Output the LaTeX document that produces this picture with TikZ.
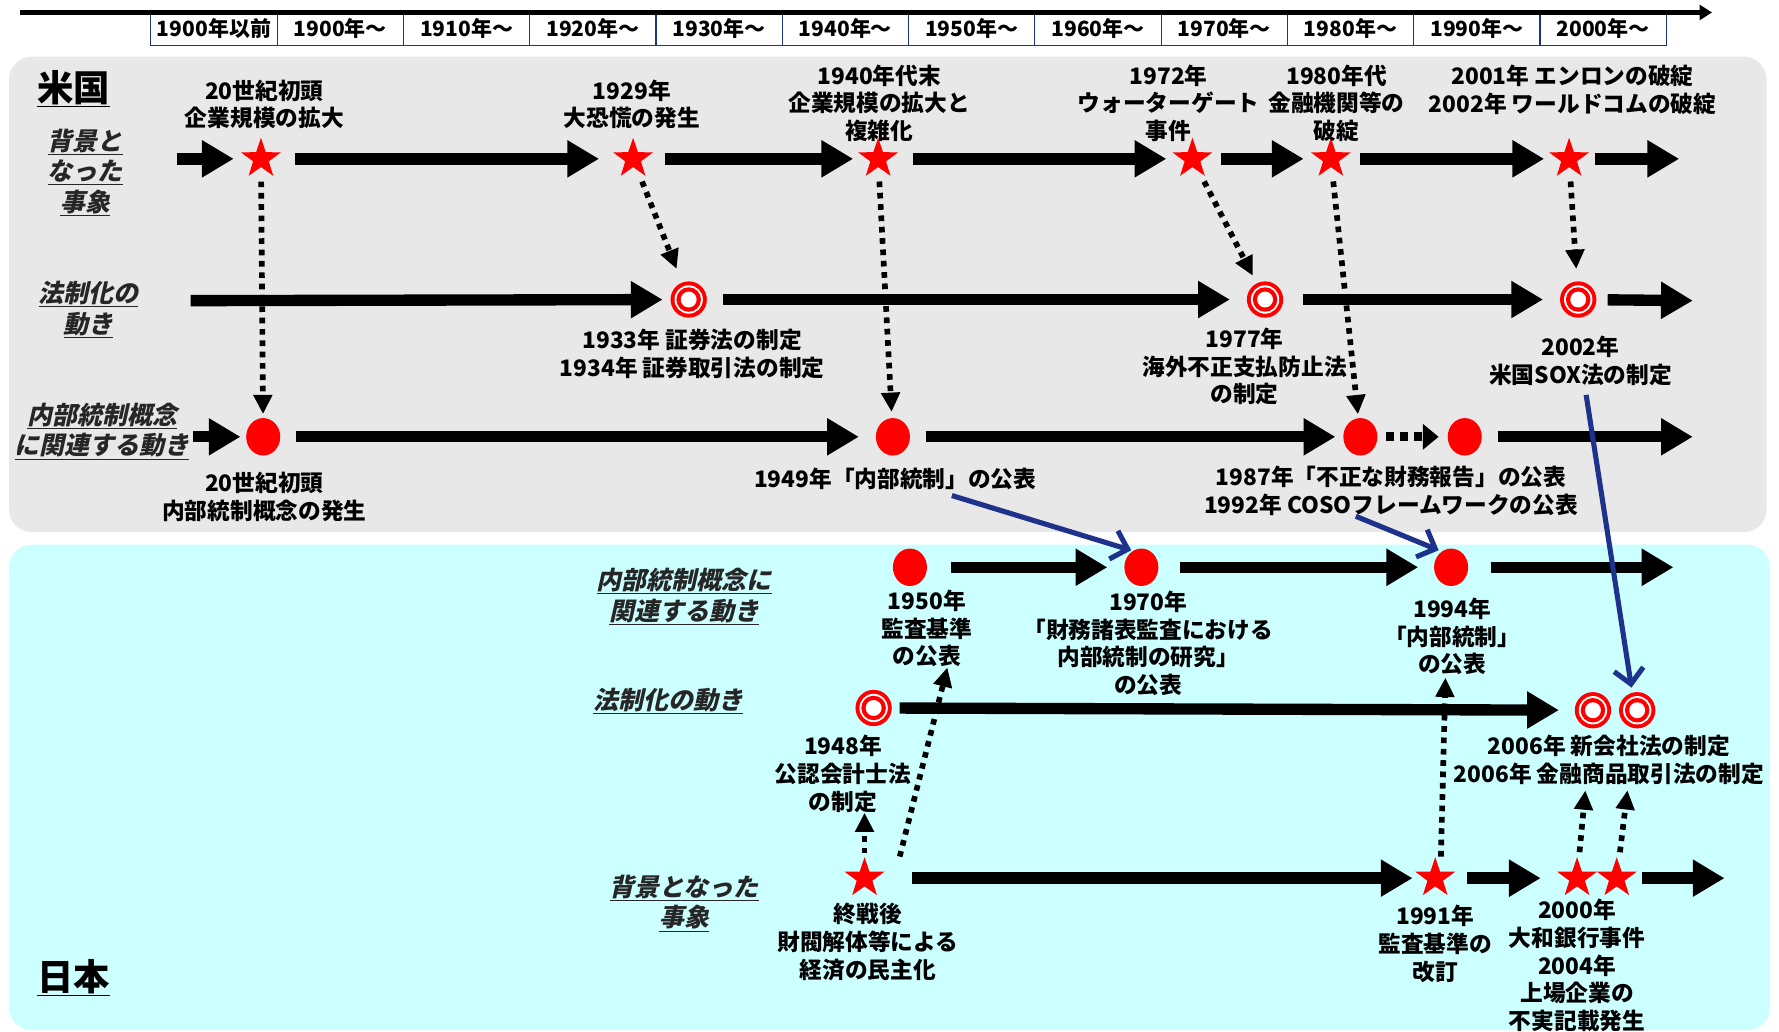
\documentclass[tikz,border=0pt]{standalone}
\usepackage{fontspec}
\setmainfont{Noto Sans CJK JP}
\newfontfamily\jpsl{Noto Sans CJK JP}[FakeSlant=0.22]
\usetikzlibrary{arrows.meta,shapes.geometric,calc}
\definecolor{usgray}{RGB}{232,232,232}
\definecolor{jpcyan}{RGB}{204,255,255}
\definecolor{navy}{RGB}{30,50,140}
\tikzset{
  txt/.style={align=center, font=\bfseries\fontsize{20}{24.5}\selectfont, inner sep=0pt},
  rowlbl/.style={align=center, font=\jpsl\bfseries\fontsize{22}{27}\selectfont, inner sep=0pt, text=black!85},
  title/.style={font=\bfseries\fontsize{32}{36}\selectfont, inner sep=0pt},
  hbox/.style={draw=navy, line width=1pt, minimum width=111.3pt, minimum height=30pt, inner sep=0pt, font=\bfseries\fontsize{18.5}{20}\selectfont},
  starnode/.style={star, star points=5, star point ratio=2.55, minimum size=37pt, fill=red, inner sep=0pt},
  dotnode/.style={ellipse, minimum width=30pt, minimum height=33pt, fill=red, inner sep=0pt},
  ringnode/.style={circle, minimum size=32pt, fill=red, inner sep=0pt,
    path picture={\fill[white] (path picture bounding box.center) circle (12.5pt);
      \fill[red] (path picture bounding box.center) circle (10.8pt);
      \fill[white] (path picture bounding box.center) circle (7pt);}},
  bigarr/.style={line width=10pt, -{Triangle[length=28pt,width=31pt]}},
  dotarr/.style={line width=5pt, dash pattern=on 5pt off 5pt, -{Triangle[length=17pt,width=16pt]}},
  smalldot/.style={line width=8pt, dash pattern=on 7pt off 5pt, -{Triangle[length=14pt,width=22pt]}},
  bluearr/.style={draw=navy, line width=4.5pt, -{Straight Barb[length=13pt,width=26pt]}}
}
\begin{document}
\begin{tikzpicture}[x=1pt,y=-1pt]
\useasboundingbox (0,0) rectangle (1568,909);
% panels
\fill[usgray, rounded corners=20pt] (8,50) rectangle (1557,469);
\fill[jpcyan, rounded corners=20pt] (8,480) rectangle (1560,908);
% header
\foreach \t [count=\i from 0] in {1900年以前,1900年〜,1910年〜,1920年〜,1930年〜,1940年〜,1950年〜,1960年〜,1970年〜,1980年〜,1990年〜,2000年〜}
  \node[hbox] (h\i) at ({188.65+111.3*\i},25.3) {\t};
\coordinate (hA) at (18,11);
\coordinate (hB) at (1509,11);
\draw[line width=4.5pt,-{Triangle[length=11pt,width=13pt]}] (hA) -- (hB);
% titles
\node[title] (us) at (65,78) {\underline{米国}};
\node[title] (jp) at (65,862) {\underline{日本}};
% row labels
\node[rowlbl] (l1) at (75,152) {\underline{背景と}\\\underline{なった}\\\underline{事象}};
\node[rowlbl] (l2) at (78,273) {\underline{法制化の}\\\underline{動き}};
\node[rowlbl] (l3) at (90,380) {\underline{内部統制概念}\\\underline{に関連する動き}};
\node[rowlbl] (l4) at (603,526) {\underline{内部統制概念に}\\\underline{関連する動き}};
\node[rowlbl] (l5) at (589,618) {\underline{法制化の動き}};
\node[rowlbl] (l6) at (603,796) {\underline{背景となった}\\\underline{事象}};
% ===== US row 1
\node[starnode] (s1) at (230,140) {};
\node[starnode] (s2) at (558,140) {};
\node[starnode] (s3) at (774,140) {};
\node[starnode] (s4) at (1051,140) {};
\node[starnode] (s5) at (1173,140) {};
\node[starnode] (s6) at (1383,140) {};
\coordinate (u1a) at (156,140);
\coordinate (u1b) at (1480,140);
\draw[bigarr, shorten >=24pt] (u1a) -- (s1.center);
\draw[bigarr, shorten <=30pt, shorten >=30pt] (s1.center) -- (s2.center);
\draw[bigarr, shorten <=28pt, shorten >=22pt] (s2.center) -- (s3.center);
\draw[bigarr, shorten <=31pt, shorten >=23pt] (s3.center) -- (s4.center);
\draw[bigarr, shorten <=25pt, shorten >=24pt] (s4.center) -- (s5.center);
\draw[bigarr, shorten <=26pt, shorten >=22pt] (s5.center) -- (s6.center);
\draw[bigarr, shorten <=23pt] (s6.center) -- (u1b);
\node[txt] (t1) at (233,92) {20世紀初頭\\企業規模の拡大};
\node[txt] (t2) at (557,92) {1929年\\大恐慌の発生};
\node[txt] (t3) at (775,91) {1940年代末\\企業規模の拡大と\\複雑化};
\node[txt] (t4) at (1030,91) {1972年\\ウォーターゲート\\事件};
\node[txt] (t5) at (1178,91) {1980年代\\金融機関等の\\破綻};
\node[txt] (t6) at (1386,79) {2001年 エンロンの破綻\\2002年 ワールドコムの破綻};
% ===== US row 2
\node[ringnode] (c1) at (607,264) {};
\node[ringnode] (c2) at (1115,264) {};
\node[ringnode] (c3) at (1391,264) {};
\coordinate (u2a) at (168,265);
\coordinate (u2b) at (1492,265);
\draw[bigarr, shorten >=23pt] (u2a) -- (c1.center);
\draw[bigarr, shorten <=30pt, shorten >=31pt] (c1.center) -- (c2.center);
\draw[bigarr, shorten <=33pt, shorten >=31pt] (c2.center) -- (c3.center);
\draw[bigarr, shorten <=26pt] (c3.center) -- (u2b);
\node[txt] (t7) at (610,312) {1933年 証券法の制定\\1934年 証券取引法の制定};
\node[txt] (t8) at (1097,323) {1977年\\海外不正支払防止法\\の制定};
\node[txt] (t9) at (1393,318) {2002年\\米国SOX法の制定};
% ===== US row 3
\node[dotnode] (d1) at (232,385) {};
\node[dotnode] (d2) at (787,385) {};
\node[dotnode] (d3) at (1199,385) {};
\node[dotnode] (d4) at (1291,385) {};
\coordinate (u3a) at (170,385);
\coordinate (u3b) at (1492,385);
\draw[bigarr, shorten >=20pt] (u3a) -- (d1.center);
\draw[bigarr, shorten <=29pt, shorten >=30pt] (d1.center) -- (d2.center);
\draw[bigarr, shorten <=29pt, shorten >=22pt] (d2.center) -- (d3.center);
\draw[smalldot, shorten <=23pt, shorten >=23pt] (d3.center) -- (d4.center);
\draw[bigarr, shorten <=29pt] (d4.center) -- (u3b);
\node[txt] (t10) at (233,438) {20世紀初頭\\内部統制概念の発生};
\node[txt] (t11) at (789,422) {1949年「内部統制」の公表};
\node[txt] (t12) at (1226,433) {1987年「不正な財務報告」の公表\\1992年 COSOフレームワークの公表};
% US dotted
\draw[dotarr, shorten <=20pt, shorten >=20pt] (s1.center) -- (d1.center);
\draw[dotarr, shorten <=21.5pt, shorten >=29pt] (s2.center) -- (c1.center);
\draw[dotarr, shorten <=20pt, shorten >=22pt] (s3.center) -- (d2.center);
\draw[dotarr, shorten <=22.5pt, shorten >=23.6pt] (s4.center) -- (c2.center);
\draw[dotarr, shorten <=20pt, shorten >=20pt] (s5.center) -- (d3.center);
\draw[dotarr, shorten <=20pt, shorten >=27pt] (s6.center) -- (c3.center);
% ===== Japan row 1
\node[dotnode] (e1) at (802,500) {};
\node[dotnode] (e2) at (1006,500) {};
\node[dotnode] (e3) at (1279,500) {};
\coordinate (j1b) at (1475,500);
\draw[bigarr, shorten <=36pt, shorten >=30pt] (e1.center) -- (e2.center);
\draw[bigarr, shorten <=34pt, shorten >=29pt] (e2.center) -- (e3.center);
\draw[bigarr, shorten <=35pt] (e3.center) -- (j1b);
\node[txt] (j1) at (817,554) {1950年\\監査基準\\の公表};
\node[txt] (j2) at (1012,567) {1970年\\「財務諸表監査における\\内部統制の研究」\\の公表};
\node[txt] (j3) at (1280,561) {1994年\\「内部統制」\\の公表};
% ===== Japan row 2
\node[ringnode] (f1) at (770,624) {};
\node[ringnode] (f2) at (1404,626) {};
\node[ringnode] (f3) at (1443,626) {};
\draw[bigarr, shorten <=23pt, shorten >=30pt] (f1.center) -- (f2.center);
\node[txt] (j4) at (743,682) {1948年\\公認会計士法\\の制定};
\node[txt] (j5) at (1418,670) {2006年 新会社法の制定\\2006年 金融商品取引法の制定};
% ===== Japan row 3
\node[starnode] (g1) at (762,774) {};
\node[starnode] (g2) at (1265,774) {};
\node[starnode] (g3) at (1390,774) {};
\node[starnode] (g4) at (1425,774) {};
\coordinate (j3b) at (1520,774);
\draw[bigarr, shorten <=42pt, shorten >=20pt] (g1.center) -- (g2.center);
\draw[bigarr, shorten <=28pt, shorten >=32pt] (g2.center) -- (g3.center);
\draw[bigarr, shorten <=22pt] (g4.center) -- (j3b);
\node[txt] (j6) at (765,830) {終戦後\\財閥解体等による\\経済の民主化};
\node[txt] (j7) at (1265,832) {1991年\\監査基準の\\改訂};
\node[txt] (j8) at (1390,851) {2000年\\大和銀行事件\\2004年\\上場企業の\\不実記載発生};
% Japan dotted
\draw[dotarr, shorten <=22pt] (g1.center) -- (g1.center |- j4.south);
\draw[dotarr] ([xshift=31pt,yshift=19pt]g1.center) -- ([xshift=18pt]j1.south);
\draw[dotarr] ([xshift=5pt,yshift=19pt]g2.center) -- ([xshift=-6pt,yshift=-2pt]j3.south);
\draw[dotarr, shorten <=23pt, shorten >=71pt] (g3.center) -- (f2.center);
\draw[dotarr, shorten <=23pt, shorten >=71pt] (g4.center) -- (f3.center);
% blue arrows
\draw[bluearr] ([xshift=50pt,yshift=-5pt]t11.south) -- ([xshift=-9pt,yshift=15pt]e2.center);
\draw[bluearr] ([xshift=-31pt,yshift=0pt]t12.south) -- ([xshift=-11pt,yshift=15pt]e3.center);
\draw[bluearr] ([xshift=5pt,yshift=-8pt]t9.south) -- ([xshift=-5pt,yshift=20pt]f3.center);
\end{tikzpicture}
\end{document}
